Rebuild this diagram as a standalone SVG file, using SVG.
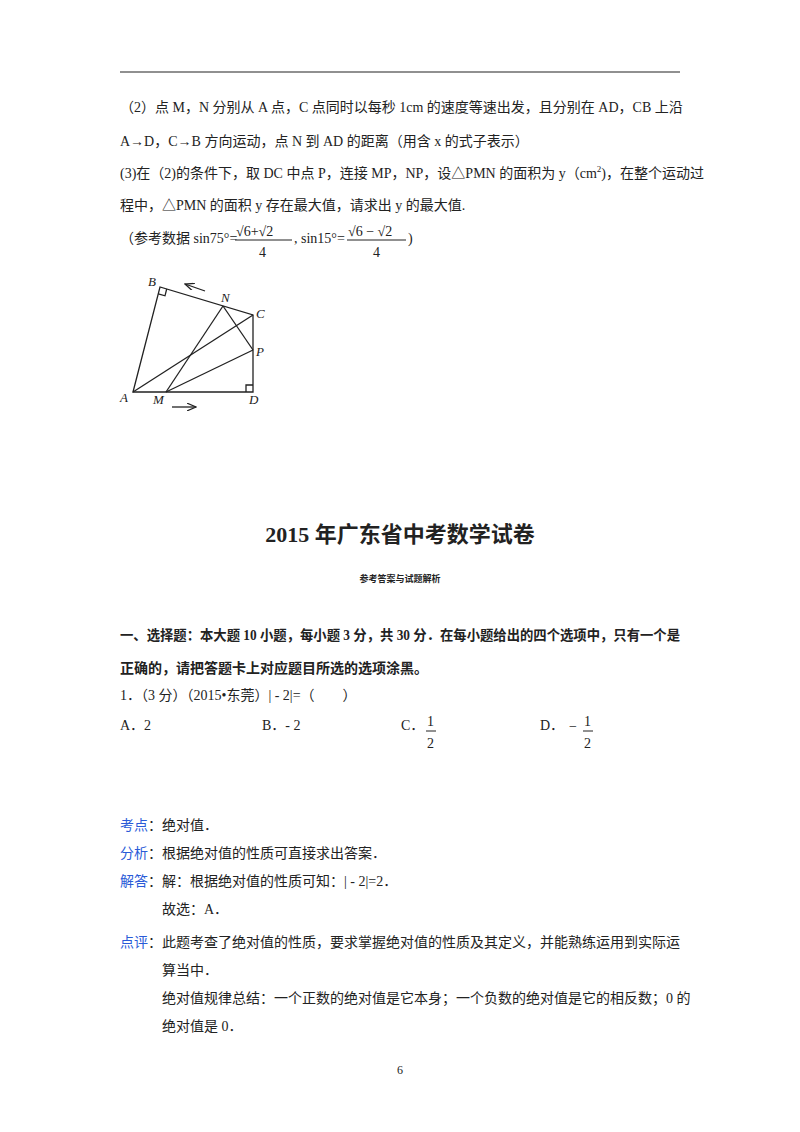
<svg xmlns="http://www.w3.org/2000/svg" width="800" height="1132" viewBox="0 0 800 1132">
<style>
text{font-family:"Liberation Serif","Noto Sans CJK SC",serif;font-size:14px;fill:#222}
.b{font-weight:bold}
.k{fill:#2a5bd7}
.i{font-style:italic;font-size:13px}
.t{font-size:22px}
.s{font-size:9px}
.h{font-size:14px}
.pg{font-size:12px}
.ln{stroke:#222;stroke-width:1.3;fill:none}
</style>
<defs><marker id="ar" markerWidth="8" markerHeight="6" refX="7" refY="3" orient="auto"><path d="M0,0 L7,3 L0,6" fill="none" stroke="#222"/></marker></defs>
<rect width="800" height="1132" fill="#fff"/>
<line x1="120" y1="72" x2="680" y2="72" stroke="#222" stroke-width="1.2"/>
<text x="120" y="112">（2）点 M，N 分别从 A 点，C 点同时以每秒 1cm 的速度等速出发，且分别在 AD，CB 上沿</text>
<text x="120" y="146">A→D，C→B 方向运动，点 N 到 AD 的距离（用含 x 的式子表示）</text>
<text x="120" y="178">(3)在（2)的条件下，取 DC 中点 P，连接 MP，NP，设△PMN 的面积为 y（cm<tspan class="s" dy="-6">2</tspan><tspan dy="6">)，在整个运动过</tspan></text>
<text x="120" y="210">程中，△PMN 的面积 y 存在最大值，请求出 y 的最大值.</text>
<text x="120" y="243">（参考数据 sin75°=</text>
<text x="236" y="236">√6+√2</text><line x1="235" y1="240" x2="292" y2="240" stroke="#222"/><text x="259" y="257">4</text>
<text x="294" y="243">, sin15°=</text>
<text x="348" y="236">√6 − √2</text><line x1="347" y1="240" x2="406" y2="240" stroke="#222"/><text x="373" y="257">4</text>
<text x="408" y="243">)</text>
<g id="figure">
<polygon class="ln" points="133,392 160,287 253,315 253,392"/>
<line class="ln" x1="133" y1="392" x2="253" y2="315"/>
<line class="ln" x1="166" y1="392" x2="223" y2="306"/>
<line class="ln" x1="223" y1="306" x2="253" y2="350"/>
<line class="ln" x1="166" y1="392" x2="253" y2="350"/>
<polyline class="ln" points="166.7,289 165,295.8 158.3,293.8" stroke-width="1"/>
<polyline class="ln" points="246,392 246,385 253,385" stroke-width="1"/>
<line class="ln" x1="205" y1="291" x2="185" y2="284" marker-end="url(#ar)" stroke-width="1"/>
<line class="ln" x1="172" y1="407" x2="196" y2="407" marker-end="url(#ar)" stroke-width="1"/>
<text class="i" x="148" y="286">B</text><text class="i" x="221" y="302">N</text>
<text class="i" x="256" y="318">C</text><text class="i" x="256" y="356">P</text>
<text class="i" x="120" y="402">A</text><text class="i" x="153" y="404">M</text><text class="i" x="249" y="404">D</text>
</g>
<text class="b t" x="400" y="542" text-anchor="middle">2015 年广东省中考数学试卷</text>
<text class="b s" x="400" y="582" text-anchor="middle">参考答案与试题解析</text>
<text class="b h" x="120" y="640" textLength="560" lengthAdjust="spacingAndGlyphs">一、选择题：本大题 10 小题，每小题 3 分，共 30 分．在每小题给出的四个选项中，只有一个是</text>
<text class="b h" x="120" y="673">正确的，请把答题卡上对应题目所选的选项涂黑。</text>
<text x="120" y="700">1．（3 分）（2015•东莞）| - 2|=（　　）</text>
<text x="120" y="730">A．2</text><text x="262" y="730">B．- 2</text>
<text x="401" y="730">C．</text><text x="427" y="726">1</text><line x1="426" y1="731" x2="436" y2="731" stroke="#222"/><text x="427" y="748">2</text>
<text x="540" y="730">D．</text><text x="569" y="731">−</text><text x="584" y="726">1</text><line x1="583" y1="731" x2="593" y2="731" stroke="#222"/><text x="584" y="748">2</text>
<text class="k" x="120" y="830">考点</text><text x="148" y="830">：绝对值．</text>
<text class="k" x="120" y="858">分析</text><text x="148" y="858">：根据绝对值的性质可直接求出答案．</text>
<text class="k" x="120" y="886">解答</text><text x="148" y="886">：解：根据绝对值的性质可知：| - 2|=2．</text>
<text x="162" y="914">故选：A．</text>
<text class="k" x="120" y="947">点评</text><text x="148" y="947">：此题考查了绝对值的性质，要求掌握绝对值的性质及其定义，并能熟练运用到实际运</text>
<text x="162" y="975">算当中．</text>
<text x="162" y="1003">绝对值规律总结：一个正数的绝对值是它本身；一个负数的绝对值是它的相反数；0 的</text>
<text x="162" y="1031">绝对值是 0．</text>
<text class="pg" x="400" y="1074" text-anchor="middle">6</text>
</svg>
